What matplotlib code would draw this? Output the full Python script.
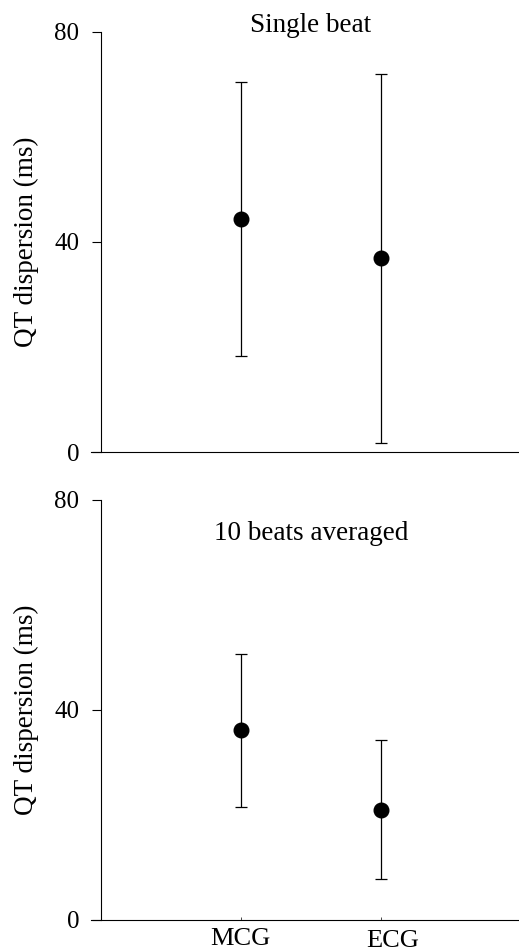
import matplotlib.pyplot as plt
import matplotlib.transforms as mtransforms

plt.rcParams['font.family'] = ['Liberation Serif', 'DejaVu Serif']

GROUPS = ['MCG', 'ECG']
PANEL_TITLES = ['Single beat', '10 beats averaged']

# mean and lower / upper ends of the error bars (ms)
SINGLE_MEAN = [44.4, 37.0]
SINGLE_LOW = [18.3, 1.8]
SINGLE_HIGH = [70.5, 71.9]

AVG_MEAN = [36.2, 21.0]
AVG_LOW = [21.5, 7.8]
AVG_HIGH = [50.7, 34.2]

Y_TICKS = [0, 40, 80]


def draw_panel(ax, mean, low, high, title, title_y, show_labels):
    x = [1, 2]
    yerr = [[m - l for m, l in zip(mean, low)], [h - m for m, h in zip(mean, high)]]
    ax.errorbar(x, mean, yerr=yerr, fmt='o', color='black', ms=10.5,
                elinewidth=0.9, capsize=4.3, capthick=0.9)
    ax.set_xlim(0, 2.99)
    ax.set_ylim(0, 80)
    ax.set_yticks(Y_TICKS)
    ax.tick_params(axis='y', direction='out', length=6.5, width=0.8, labelsize=18, pad=9)
    ax.spines['top'].set_visible(False)
    ax.spines['right'].set_visible(False)
    ax.spines['left'].set_linewidth(0.8)
    ax.spines['bottom'].set_linewidth(0.8)
    ax.spines['bottom'].set_bounds(-0.07, 2.99)
    ax.set_ylabel('QT dispersion (ms)', fontsize=19.5)
    ax.yaxis.set_label_coords(-0.148, 0.5)
    ax.text(1.5, title_y, title, ha='center', va='center', fontsize=19.5)
    ax.set_xticks(x)
    if show_labels:
        ax.set_xticklabels(GROUPS, fontsize=19)
        ax.tick_params(axis='x', direction='in', length=2, width=0.5, pad=6)
        lbl = ax.get_xticklabels()[1]
        lbl.set_transform(lbl.get_transform() +
                          mtransforms.ScaledTranslation(0.12, -0.015, ax.figure.dpi_scale_trans))
    else:
        ax.set_xticklabels([])
        ax.tick_params(axis='x', length=0)


fig = plt.figure(figsize=(5.19, 9.51), dpi=100)
ax1 = fig.add_axes([0.1946, 0.5247, 0.8054, 0.4417])
ax2 = fig.add_axes([0.1946, 0.0326, 0.8054, 0.4420])

draw_panel(ax1, SINGLE_MEAN, SINGLE_LOW, SINGLE_HIGH, PANEL_TITLES[0], 81.2, False)
draw_panel(ax2, AVG_MEAN, AVG_LOW, AVG_HIGH, PANEL_TITLES[1], 73.6, True)

for ax in (ax1, ax2):
    for child in ax.get_children():
        child.set_clip_on(False)

fig.savefig('out.png', dpi=100)
